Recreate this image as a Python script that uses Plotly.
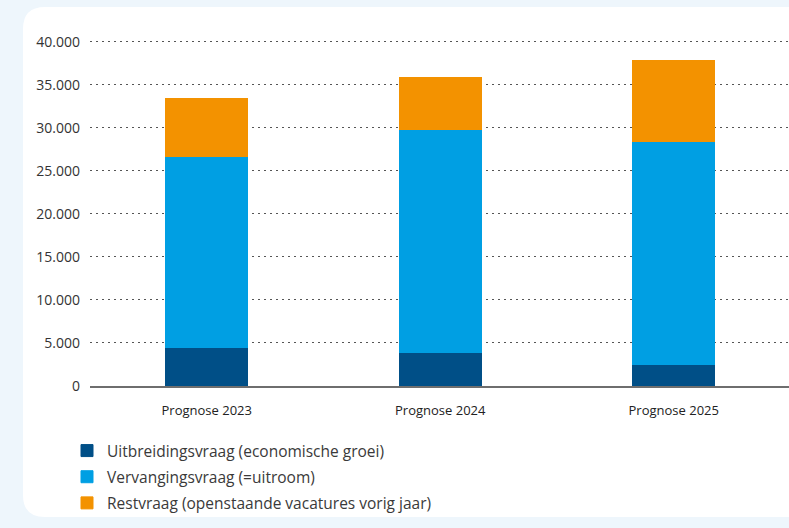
import plotly.graph_objects as go

# Arbeidsmarktprognose: vraag naar personeel per jaar
categories = ["Prognose 2023", "Prognose 2024", "Prognose 2025"]
uitbreidingsvraag = [4500, 3950, 2550]
vervangingsvraag = [22200, 25800, 25800]
restvraag = [6650, 6050, 9500]
y_ticks = [0, 5000, 10000, 15000, 20000, 25000, 30000, 35000, 40000]

series = [
    ("Uitbreidingsvraag (economische groei)", uitbreidingsvraag, "#004f87"),
    ("Vervangingsvraag (=uitroom)", vervangingsvraag, "#009fe3"),
    ("Restvraag (openstaande vacatures vorig jaar)", restvraag, "#f39200"),
]

W, H = 789, 528
ML, MR, MT, MB = 90, 0, 40, 142
PW, PH = W - ML - MR, H - MT - MB

fig = go.Figure()
for i, (name, vals, color) in enumerate(series):
    fig.add_trace(go.Bar(
        x=categories, y=vals, name=name, legendgroup=f"g{i}",
        marker=dict(color=color, line=dict(color=color, width=1)),
        width=0.35,
    ))


def px_to_paper(x, y):
    return (x - ML) / PW, (H - MB - y) / PH


def card_path(x0, y0, x1, y1, r):
    pts = []
    def P(x, y):
        px, py = px_to_paper(x, y)
        return f"{px:.5f},{py:.5f}"
    pts.append(f"M{P(x0 + r, y0)}")
    pts.append(f"L{P(x1, y0)}")
    pts.append(f"L{P(x1, y1)}")
    pts.append(f"L{P(x0 + r, y1)}")
    pts.append(f"Q{P(x0, y1)} {P(x0, y1 - r)}")
    pts.append(f"L{P(x0, y0 + r)}")
    pts.append(f"Q{P(x0, y0)} {P(x0 + r, y0)}")
    pts.append("Z")
    return " ".join(pts)


fig.add_shape(
    type="path", xref="paper", yref="paper",
    path=card_path(23, 7, 820, 517, 22),
    fillcolor="white", line=dict(width=0), layer="below",
)

fig.update_layout(
    width=W, height=H,
    margin=dict(l=ML, r=MR, t=MT, b=MB, pad=0),
    paper_bgcolor="#eef6fc",
    plot_bgcolor="rgba(0,0,0,0)",
    barmode="stack",
    separators=",.",
    font=dict(family="Open Sans, sans-serif", color="#333333"),
    showlegend=True,
    legend=dict(
        orientation="v", traceorder="grouped", tracegroupgap=3,
        x=(67 - ML) / PW, xanchor="left",
        y=(H - MB - 434) / PH, yanchor="top",
        font=dict(size=15.5, color="#3a3a3a"),
        bgcolor="rgba(0,0,0,0)",
    ),
    xaxis=dict(
        range=[-0.5, -0.5 + PW / 233.5],
        showgrid=False, zeroline=False,
        showline=True, linecolor="#6e6e6e", linewidth=1.5,
        ticks="", tickfont=dict(size=13, color="#222222"),
        ticklabelstandoff=12,
    ),
    yaxis=dict(
        range=[0, 40200],
        tickvals=y_ticks, tickformat=",d",
        showgrid=True, gridcolor="#555555", gridwidth=1, griddash="2px,4px",
        zeroline=False, showline=False,
        ticks="", tickfont=dict(size=14, color="#333333"),
        ticklabelstandoff=9,
    ),
)

fig.write_html("out.html")
